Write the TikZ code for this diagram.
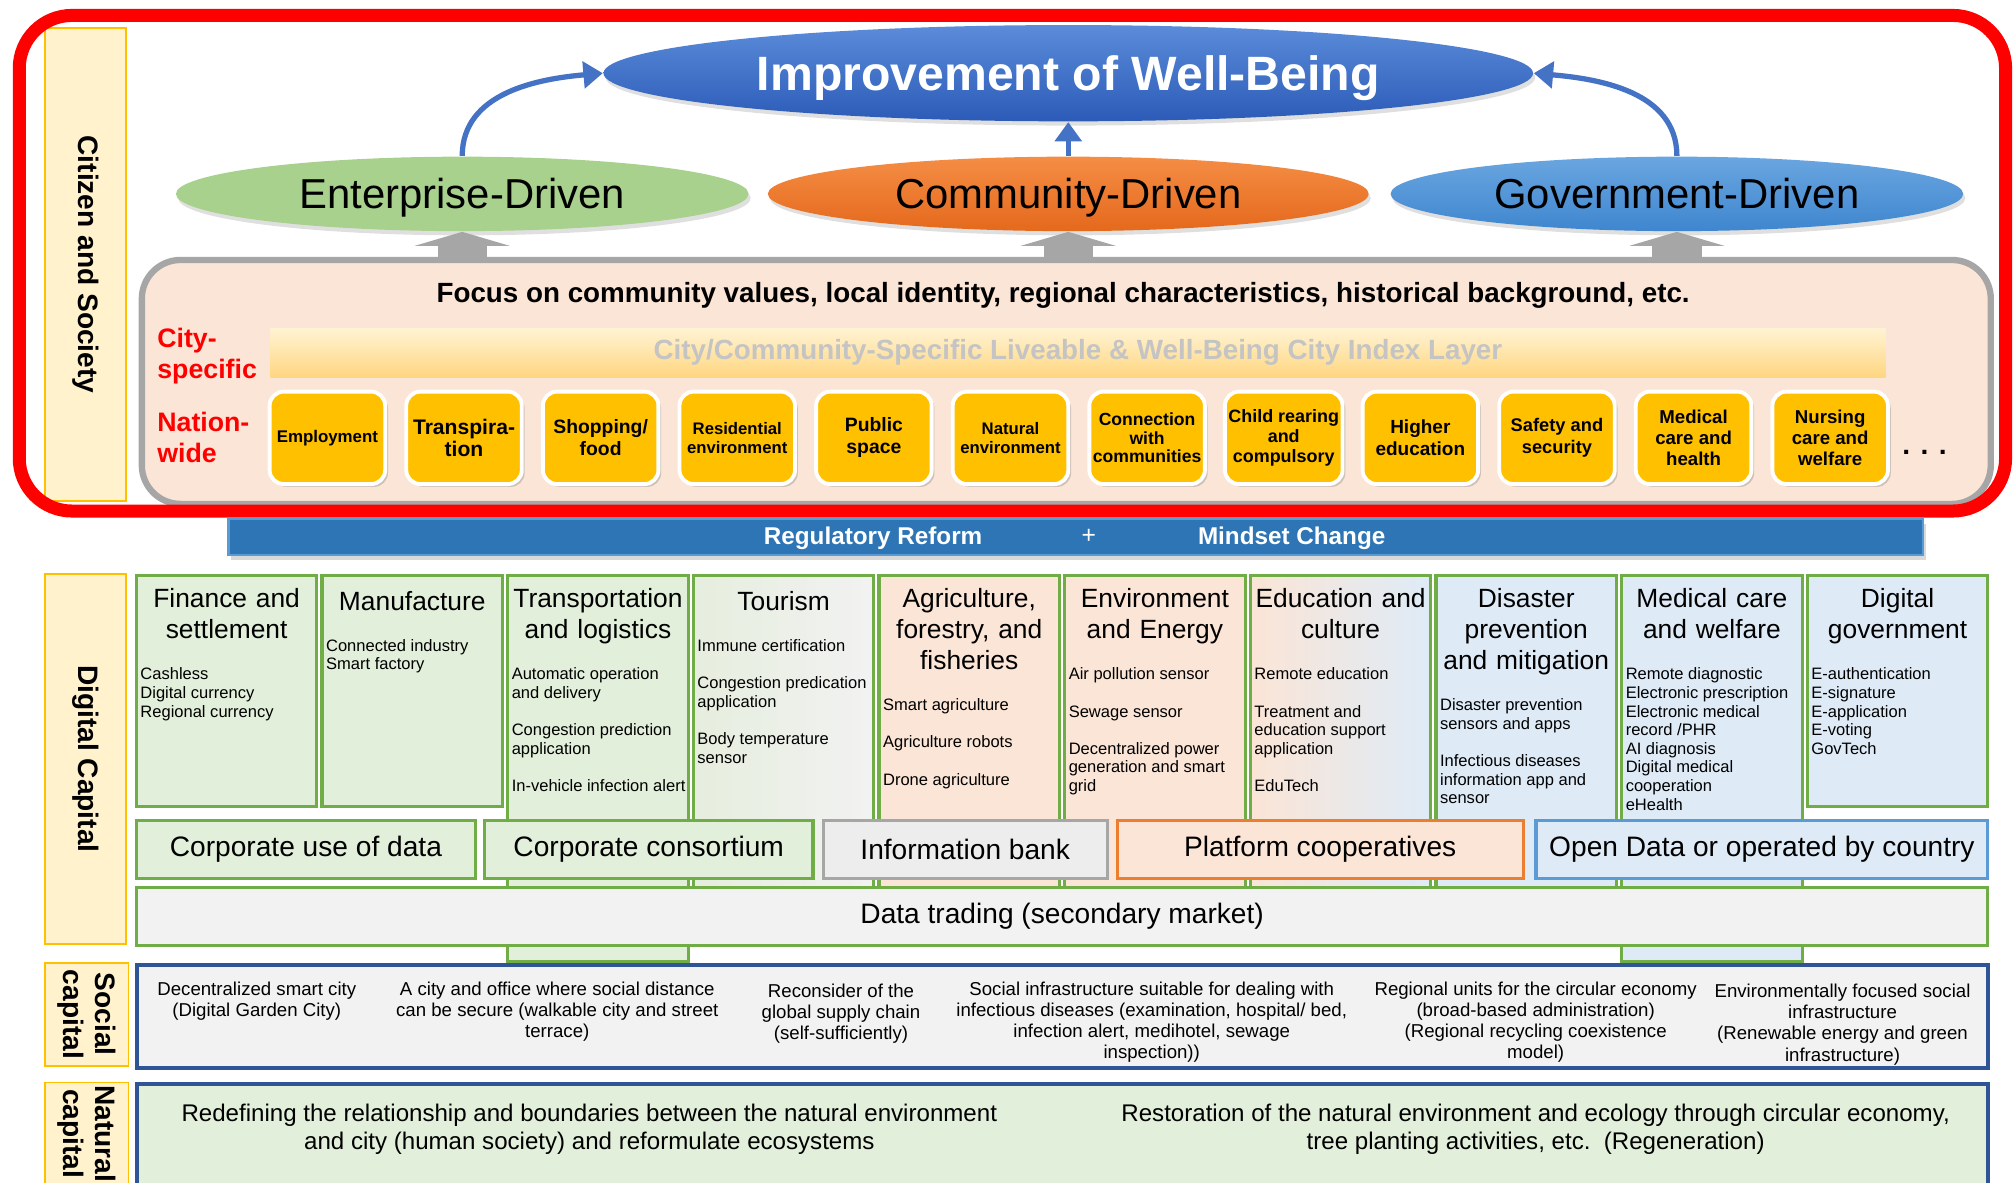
\documentclass[tikz,border=0pt]{standalone}
\usepackage{fontspec}
\setmainfont{Liberation Sans}
\usetikzlibrary{positioning, shapes.geometric, arrows.meta, shadows}

\newlength\dpx
\setlength\dpx{0.01284cm}
\newcommand{\itemgap}{\\[5.3pt]}

\definecolor{frameRed}{HTML}{FF0000}
\definecolor{capCream}{HTML}{FFF2CC}
\definecolor{capGold}{HTML}{FFC000}
\definecolor{leafGreen}{HTML}{70AD47}
\definecolor{paleGreen}{HTML}{E2EFDA}
\definecolor{palePeach}{HTML}{FBE5D6}
\definecolor{paleBlue}{HTML}{DEEBF7}
\definecolor{paleGray}{HTML}{F2F2F2}
\definecolor{bankGray}{HTML}{EDEDED}
\definecolor{midGray}{HTML}{A6A6A6}
\definecolor{orangeLine}{HTML}{ED7D31}
\definecolor{skyLine}{HTML}{5B9BD5}
\definecolor{navyLine}{HTML}{2F5597}
\definecolor{arrowBlue}{HTML}{4472C4}
\definecolor{barBlue}{HTML}{2E75B6}
\definecolor{bandText}{HTML}{C4C4C4}
\definecolor{wellTop}{HTML}{5B8BD9}
\definecolor{wellBottom}{HTML}{2C5BB8}
\definecolor{entGreen}{HTML}{A9D18E}
\definecolor{comTop}{HTML}{F58D45}
\definecolor{comBottom}{HTML}{E4691C}
\definecolor{govTop}{HTML}{6AA6E0}
\definecolor{govBottom}{HTML}{3F86CF}
\definecolor{bandTop}{HTML}{FFF3D4}
\definecolor{bandBottom}{HTML}{FFD67F}
\definecolor{tourLeft}{HTML}{E6EEDE}
\definecolor{tourMid}{HTML}{DCDCDC}
\definecolor{tourRight}{HTML}{F2F2F2}
\definecolor{eduMid}{HTML}{F5E3DA}

\tikzset{
  sidecap/.style={draw=capGold, fill=capCream, line width=0.5pt, rotate=-90,
    font=\bfseries\fontsize{8}{9}\selectfont, align=center, inner sep=0pt},
  driven/.style={ellipse, minimum width=446*\dpx, minimum height=58*\dpx,
    font=\fontsize{11.9}{14}\selectfont, inner sep=0pt, text height=8.5pt, text depth=0pt,
    drop shadow={opacity=0.25, shadow xshift=0.6pt, shadow yshift=-1.2pt}},
  flowarrow/.style={arrowBlue, line width=1.5pt, -{Triangle[length=5.5pt, width=7.5pt]}},
  liftarrow/.style={midGray, line width=14pt, -{Triangle[length=4pt, width=27pt]}},
  citylabel/.style={anchor=west, text=frameRed, align=left, inner sep=0pt,
    font=\bfseries\fontsize{7.6}{8.8}\selectfont},
  indexbox/.style={draw=white, line width=1.1pt, fill=capGold, rounded corners=4pt,
    minimum width=90*\dpx, minimum height=72*\dpx, align=center, inner sep=1pt,
    drop shadow={opacity=0.35, shadow xshift=0.8pt, shadow yshift=-0.8pt}},
  sector/.style={draw=leafGreen, line width=0.9pt, anchor=north west,
    minimum width=140.5*\dpx, inner sep=0pt},
  sectitle/.style={anchor=north, align=center, text width=49.6pt, inner sep=0pt,
    font=\fontsize{7.5}{8.8}\selectfont, yshift=-4pt, execute at end node=\strut},
  secitems/.style={anchor=north west, align=left, inner sep=0pt, xshift=0.3pt, yshift=-5.2pt,
    font=\fontsize{4.7}{5.3}\selectfont},
  ownerbox/.style={anchor=north west, line width=0.9pt, minimum height=45*\dpx,
    font=\fontsize{8}{9.6}\selectfont},
  socialtxt/.style={anchor=north, align=center, inner sep=0pt,
    font=\fontsize{5.3}{6}\selectfont},
  naturetxt/.style={anchor=north, align=center, inner sep=0pt,
    font=\fontsize{6.85}{8}\selectfont},
}

\begin{document}
\begin{tikzpicture}[x=0.01284cm, y=-0.01284cm]
  \useasboundingbox (0,0) rectangle (1567.8,920.6);

  % citizen and society
  \node[sidecap, minimum width=368*\dpx, minimum height=63*\dpx] (citizen) at (66.5,206) {Citizen and Society};

  \node[ellipse, minimum width=724*\dpx, minimum height=75*\dpx, inner sep=0pt,
    top color=wellTop, bottom color=wellBottom, text=white, text height=9.8pt, text depth=0pt,
    font=\bfseries\fontsize{13.7}{16}\selectfont,
    drop shadow={opacity=0.25, shadow xshift=0.6pt, shadow yshift=-1.2pt}] (wellbeing) at (832,57) {Improvement of Well-Being};
  \node[driven, fill=entGreen] (enterprise) at (360,151) {Enterprise-Driven};
  \node[driven, minimum width=468*\dpx, top color=comTop, bottom color=comBottom] (community) at (832,151) {Community-Driven};
  \node[driven, top color=govTop, bottom color=govBottom] (government) at (1306,151) {Government-Driven};

  \draw[flowarrow] (enterprise.north) to[out=90, in=185] (wellbeing.west);
  \draw[flowarrow] (community.north) -- (wellbeing.south);
  \draw[flowarrow] (government.north) to[out=90, in=-5] (wellbeing.east);

  \node[draw=midGray, fill=palePeach, line width=1.8pt, rounded corners=11pt, anchor=north west,
    minimum width=1440*\dpx, minimum height=190*\dpx] (focus) at (108,200) {};
  \foreach \d in {enterprise, community, government}
    \draw[liftarrow] (\d.south |- focus.north) -- (\d.south);

  \node[font=\bfseries\fontsize{7.9}{9.5}\selectfont] (focustext) at (828,230)
    {Focus on community values, local identity, regional characteristics, historical background, etc.};
  \node[citylabel] (cityspec) at (122,277) {City-\\specific};
  \node[citylabel] (nationwide) at (122,341) {Nation-\\wide};
  \node[anchor=north west, minimum width=1258*\dpx, minimum height=37*\dpx,
    top color=bandTop, bottom color=bandBottom, text=bandText,
    font=\bfseries\fontsize{7.9}{9.5}\selectfont] (indexlayer) at (210,255)
    {City/Community-Specific Liveable \& Well-Being City Index Layer};

  \foreach \i/\txt/\sz/\bs in {0/{Employment}/4.8/5.4, 1/{Transpira-\\tion}/6/6.2,
      2/{Shopping/\\food}/5.5/6.2, 3/{Residential\\environment}/4.75/5.3,
      4/{Public\\space}/5.5/6.2, 5/{Natural\\environment}/4.75/5.3,
      6/{Connection\\with\\communities}/5/5.3, 7/{Child rearing\\and\\compulsory}/5.1/5.6,
      8/{Higher\\education}/5.4/6.2, 9/{Safety and\\security}/5.2/6.2,
      10/{Medical\\care and\\health}/5.3/6, 11/{Nursing\\care and\\welfare}/5.3/6}
    \node[indexbox, font=\bfseries\fontsize{\sz}{\bs}\selectfont] (ind\i) at ({255+106.4*\i},341) {\txt};
  \node[right=0pt of ind11, yshift=-4pt, font=\bfseries\fontsize{8}{9}\selectfont] (more) {. . .};

  % regulatory bar
  \node[fill=barBlue, draw=skyLine, line width=0.6pt, minimum width=1320*\dpx, minimum height=28*\dpx,
    drop shadow={opacity=0.3, shadow xshift=0.8pt, shadow yshift=-1.4pt}] (reform) at (838,418) {};
  \node[text=white, font=\bfseries\fontsize{6.9}{8}\selectfont] (regtext) at (680,419) {Regulatory Reform};
  \node[text=white, font=\fontsize{7}{8}\selectfont] (plus) at (848,418) {+};
  \node[text=white, font=\bfseries\fontsize{6.9}{8}\selectfont] (mindtext) at (1006,419) {Mindset Change};

  \draw[frameRed, line width=3.7pt, rounded corners=15pt] (15,12) rectangle (1562,398);

  % digital capital
  \node[sidecap, minimum width=288*\dpx, minimum height=63*\dpx] (digital) at (66.5,591) {Digital Capital};

  \node[sector, fill=paleGreen, minimum height=180*\dpx] (finance) at (105,447) {};
  \node[sectitle] (financet) at (finance.north) {Finance and\\settlement};
  \node[secitems] (financei) at (financet.south west) {Cashless\\Digital currency\\Regional currency};

  \node[sector, fill=paleGreen, minimum height=180*\dpx] (manufact) at (249.6,447) {};
  \node[sectitle] (manufactt) at (manufact.north) {Manufacture};
  \node[secitems] (manufacti) at (manufactt.south west) {Connected industry\\Smart factory};

  \node[sector, fill=paleGreen, minimum height=301*\dpx] (transport) at (394.2,447) {};
  \node[sectitle] (transportt) at (transport.north) {Transportation\\and logistics};
  \node[secitems] (transporti) at (transportt.south west) {Automatic operation\\and delivery\itemgap Congestion prediction\\application\itemgap In-vehicle infection alert};

  \node[sector, left color=tourLeft, middle color=tourMid, right color=tourRight, minimum height=243*\dpx] (tourism) at (538.8,447) {};
  \node[sectitle] (tourismt) at (tourism.north) {Tourism};
  \node[secitems] (tourismi) at (tourismt.south west) {Immune certification\itemgap Congestion predication\\application\itemgap Body temperature\\sensor};

  \node[sector, fill=palePeach, minimum height=243*\dpx] (agri) at (683.4,447) {};
  \node[sectitle] (agrit) at (agri.north) {Agriculture,\\forestry, and\\fisheries};
  \node[secitems] (agrii) at (agrit.south west) {Smart agriculture\itemgap Agriculture robots\itemgap Drone agriculture};

  \node[sector, fill=palePeach, minimum height=243*\dpx] (environ) at (828,447) {};
  \node[sectitle] (environt) at (environ.north) {Environment\\and Energy};
  \node[secitems] (environi) at (environt.south west) {Air pollution sensor\itemgap Sewage sensor\itemgap Decentralized power\\generation and smart\\grid};

  \node[sector, left color=palePeach, middle color=eduMid, right color=paleBlue, minimum height=243*\dpx] (educ) at (972.6,447) {};
  \node[sectitle] (euct) at (educ.north) {Education and\\culture};
  \node[secitems] (educi) at (euct.south west) {Remote education\itemgap Treatment and\\education support\\application\itemgap EduTech};

  \node[sector, fill=paleBlue, minimum height=243*\dpx] (disaster) at (1117.2,447) {};
  \node[sectitle] (disastert) at (disaster.north) {Disaster\\prevention\\and mitigation};
  \node[secitems] (disasteri) at (disastert.south west) {Disaster prevention\\sensors and apps\itemgap Infectious diseases\\information app and\\sensor};

  \node[sector, fill=paleBlue, minimum height=301*\dpx] (medical) at (1261.8,447) {};
  \node[sectitle] (medicalt) at (medical.north) {Medical care\\and welfare};
  \node[secitems] (medicali) at (medicalt.south west) {Remote diagnostic\\Electronic prescription\\Electronic medical\\record /PHR\\AI diagnosis\\Digital medical\\cooperation\\eHealth};

  \node[sector, fill=paleBlue, minimum height=180*\dpx] (digigov) at (1406.4,447) {};
  \node[sectitle] (digigovt) at (digigov.north) {Digital\\government};
  \node[secitems] (digigovi) at (digigovt.south west) {E-authentication\\E-signature\\E-application\\E-voting\\GovTech};

  % data holders
  \node[ownerbox, fill=paleGreen, draw=leafGreen, minimum width=264*\dpx] (corpuse) at (105,638) {Corporate use of data};
  \node[ownerbox, fill=paleGreen, draw=leafGreen, minimum width=256*\dpx] (consortium) at (376,638) {Corporate consortium};
  \node[ownerbox, fill=bankGray, draw=midGray, minimum width=221*\dpx] (infobank) at (640,638) {Information bank};
  \node[ownerbox, fill=palePeach, draw=orangeLine, minimum width=316*\dpx] (platcoop) at (869,638) {Platform cooperatives};
  \node[ownerbox, fill=paleBlue, draw=skyLine, minimum width=352*\dpx] (opendata) at (1195,638) {Open Data or operated by country};
  \node[ownerbox, fill=paleGray, draw=leafGreen, minimum width=1442*\dpx] (trading) at (105,690) {Data trading (secondary market)};

  % social capital
  \node[sidecap, minimum width=80*\dpx, minimum height=65*\dpx] (socialcap) at (67.5,790) {Social\\capital};
  \node[draw=navyLine, fill=paleGray, line width=1.1pt, anchor=north west,
    minimum width=1442*\dpx, minimum height=80*\dpx] (social) at (105,750) {};
  \node[socialtxt] (soc1) at (200,764) {Decentralized smart city\\(Digital Garden City)};
  \node[socialtxt] (soc2) at (434,764) {A city and office where social distance\\can be secure (walkable city and street\\terrace)};
  \node[socialtxt] (soc3) at (655,766) {Reconsider of the\\global supply chain\\(self-sufficiently)};
  \node[socialtxt] (soc4) at (897,764) {Social infrastructure suitable for dealing with\\infectious diseases (examination, hospital/ bed,\\infection alert, medihotel, sewage\\inspection))};
  \node[socialtxt] (soc5) at (1196,764) {Regional units for the circular economy\\(broad-based administration)\\(Regional recycling coexistence\\model)};
  \node[socialtxt] (soc6) at (1435,766) {Environmentally focused social\\infrastructure\\(Renewable energy and green\\infrastructure)};

  % natural capital
  \node[sidecap, minimum width=80*\dpx, minimum height=65*\dpx] (naturecap) at (67.5,883) {Natural\\capital};
  \node[draw=navyLine, fill=paleGreen, line width=1.1pt, anchor=north west,
    minimum width=1442*\dpx, minimum height=85*\dpx] (nature) at (105,843) {};
  \node[naturetxt] (nat1) at (459,859) {Redefining the relationship and boundaries between the natural environment\\and city (human society) and reformulate ecosystems};
  \node[naturetxt] (nat2) at (1196,859) {Restoration of the natural environment and ecology through circular economy,\\tree planting activities, etc.~~(Regeneration)};
\end{tikzpicture}
\end{document}
